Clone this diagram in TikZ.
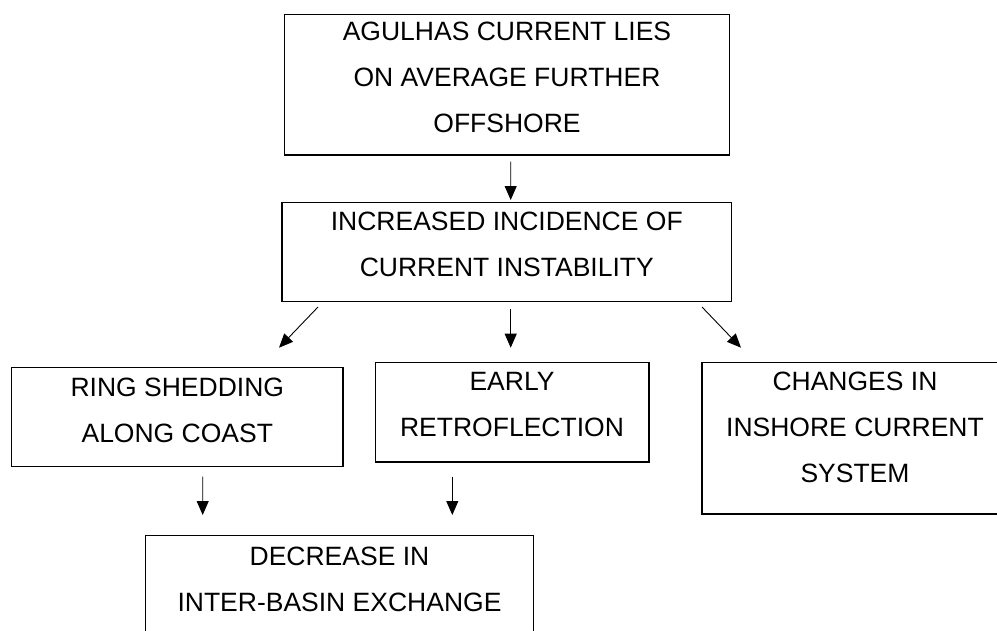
\documentclass[tikz,border=0pt]{standalone}
\usepackage{fontspec}
\setmainfont{Liberation Sans}
\usetikzlibrary{arrows.meta,calc}
\newcommand\capstrut{\rule{0pt}{20pt}}
\begin{document}
\begin{tikzpicture}[x=1pt,y=-1pt,
  box/.style={draw,line width=1.4pt,inner sep=0pt,outer sep=0pt},
  txt/.style={font=\fontsize{26.5}{46}\selectfont,align=center,inner sep=0pt,anchor=north},
  arr/.style={line width=0.9pt,-{Triangle[length=14pt,width=12pt]}}]
\useasboundingbox (0,0) rectangle (997,630);
\clip (0,0) rectangle (997,630);
% boxes
\node[box,minimum width=444.6pt,minimum height=140.3pt] (b1) at (507,84.85) {};
\node[box,minimum width=449.7pt,minimum height=99.4pt] (b2) at (506.85,252) {};
\node[box,minimum width=331.3pt,minimum height=99pt] (b3) at (177.35,417.2) {};
\node[box,minimum width=273.3pt,minimum height=99.3pt] (b4) at (512.35,412.35) {};
\node[box,minimum width=306pt,minimum height=151.3pt] (b5) at (855,438.35) {};
\node[box,minimum width=387.6pt,minimum height=130pt] (b6) at (339.5,600.7) {};
% texts
\node[txt] (t1) at (507,20) {\capstrut AGULHAS CURRENT LIES\\ON AVERAGE FURTHER\\OFFSHORE};
\node[txt] (t2) at (506.8,210.7) {\capstrut INCREASED INCIDENCE OF\\CURRENT INSTABILITY};
\node[txt] (t3) at (177.3,376.7) {\capstrut RING SHEDDING\\ALONG COAST};
\node[txt] (t4) at (512,370.7) {\capstrut EARLY\\RETROFLECTION};
\node[txt] (t5) at (855,370.7) {\capstrut CHANGES IN\\INSHORE CURRENT\\SYSTEM};
\node[txt] (t6) at (339.5,545) {\capstrut DECREASE IN\\INTER-BASIN EXCHANGE};
% arrows
\draw[arr] ($(b1.south)+(3.7,6.7)$) -- ($(b2.north)+(3.85,-2.3)$);
\draw[arr] ($(b2.south west)+(36,5.3)$) -- ($(b3.north east)+(-64,-20)$);
\draw[arr] ($(b2.south)+(3.85,7.3)$) -- ($(b4.north)+(-1.65,-15)$);
\draw[arr] ($(b2.south east)+(-29.7,5.3)$) -- ($(b5.north west)+(39,-15)$);
\draw[arr] ($(b3.south)+(25.35,10)$) -- ($(b6.north west)+(57,-20.7)$);
\draw[arr] ($(b4.south)+(-60.05,14.7)$) -- ($(b6.north east)+(-81,-20.7)$);
\end{tikzpicture}
\end{document}
